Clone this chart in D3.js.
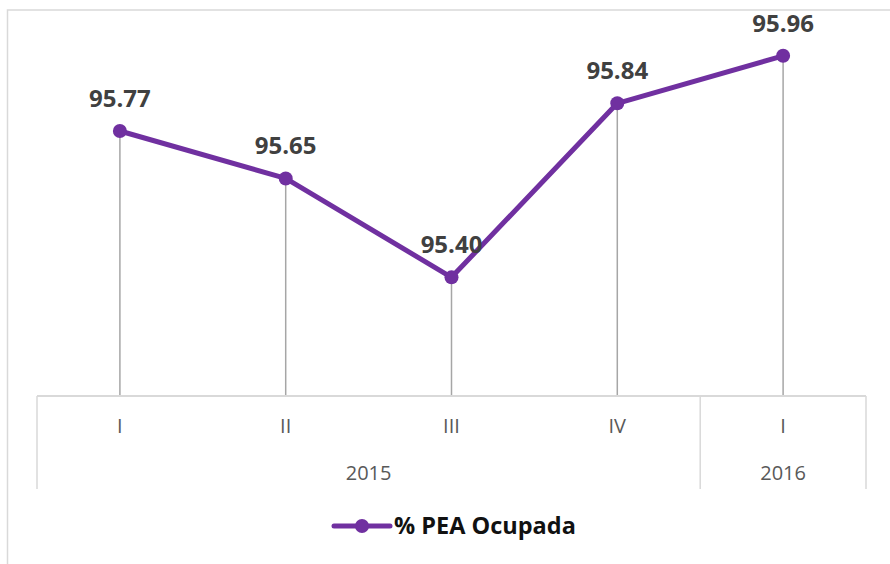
<!DOCTYPE html>
<html><head><meta charset="utf-8">
<script src="https://cdn.jsdelivr.net/npm/d3@7"></script>
<style>
html,body{margin:0;padding:0;background:#fff;}
svg{display:block;font-family:"Open Sans",sans-serif;}
</style></head>
<body><svg id="c" width="890" height="564"></svg>
<script>
const quarters = ["I","II","III","IV","I"];
const values = [95.77, 95.65, 95.40, 95.84, 95.96];
const years = ["2015","2016"];
const yearSpans = [4, 1];
const seriesName = "% PEA Ocupada";

const svg = d3.select("#c");
const purple = "#7030A0";
const gridGrey = "#d9d9d9";

// chart border
svg.append("rect").attr("x",7.5).attr("y",10).attr("width",1000).attr("height",1000)
  .attr("fill","none").attr("stroke",gridGrey).attr("stroke-width",1.5);

const x = d3.scaleBand().domain(d3.range(quarters.length)).range([37, 866]).padding(0);
const y = d3.scaleLinear().domain([95.1, 96.0]).range([396, 40]);
const axisY = y(95.1);
const cx = i => x(i) + x.bandwidth()/2;

// drop lines
svg.append("g").selectAll("line").data(values).join("line")
  .attr("x1",(d,i)=>cx(i)).attr("x2",(d,i)=>cx(i))
  .attr("y1",d=>y(d)).attr("y2",axisY)
  .attr("stroke","#a6a6a6").attr("stroke-width",1.5);

// axis line
svg.append("line").attr("x1",37).attr("x2",866).attr("y1",axisY).attr("y2",axisY)
  .attr("stroke",gridGrey).attr("stroke-width",2);

// group separators
const bottomY = 489;
let acc = 0;
const bounds = [0];
yearSpans.forEach(s=>{acc+=s; bounds.push(acc);});
const boundX = b => b < quarters.length ? x(b) : x.range()[1];
svg.append("g").selectAll("line").data(bounds).join("line")
  .attr("x1",b=>boundX(b)).attr("x2",b=>boundX(b))
  .attr("y1",axisY).attr("y2",bottomY)
  .attr("stroke",gridGrey).attr("stroke-width",1.5);

// quarter labels
svg.append("g").selectAll("text").data(quarters).join("text")
  .attr("x",(d,i)=>cx(i)).attr("y",433)
  .attr("text-anchor","middle").attr("font-size",20).attr("fill","#595959")
  .text(d=>d);

// year labels
svg.append("g").selectAll("text").data(years).join("text")
  .attr("x",(d,i)=>(boundX(bounds[i])+boundX(bounds[i+1]))/2).attr("y",480)
  .attr("text-anchor","middle").attr("font-size",20).attr("fill","#595959")
  .text(d=>d);

// line
const line = d3.line().x((d,i)=>cx(i)).y(d=>y(d));
svg.append("path").datum(values).attr("d",line)
  .attr("fill","none").attr("stroke",purple).attr("stroke-width",5)
  .attr("stroke-linejoin","round");

svg.append("g").selectAll("circle").data(values).join("circle")
  .attr("cx",(d,i)=>cx(i)).attr("cy",d=>y(d)).attr("r",7).attr("fill",purple);

// data labels
svg.append("g").selectAll("text").data(values).join("text")
  .attr("x",(d,i)=>cx(i)).attr("y",d=>y(d)-24)
  .attr("text-anchor","middle").attr("font-size",24).attr("font-weight",700)
  .attr("fill","#404040").text(d=>d.toFixed(2));

// legend
const lg = svg.append("g");
lg.append("line").attr("x1",334).attr("x2",390).attr("y1",526).attr("y2",526)
  .attr("stroke",purple).attr("stroke-width",5).attr("stroke-linecap","round");
lg.append("circle").attr("cx",362).attr("cy",526).attr("r",7).attr("fill",purple);
lg.append("text").attr("x",394).attr("y",534).attr("font-size",23.5).attr("font-weight",700)
  .attr("fill","#111").text(seriesName);
</script></body></html>
